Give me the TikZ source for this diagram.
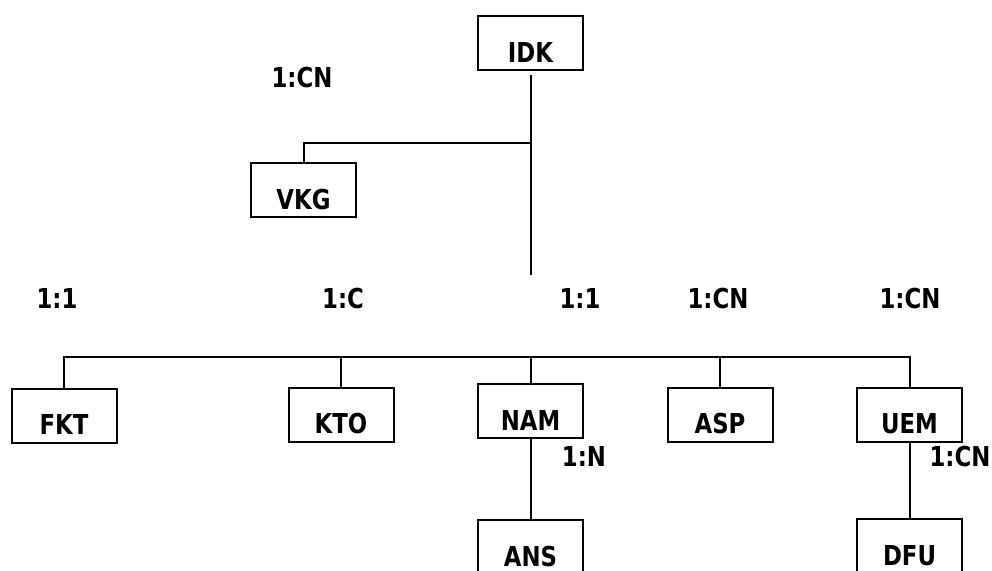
\documentclass[tikz,border=0pt]{standalone}
\usepackage{fontspec}
\setmainfont{DejaVu Sans}
\newfontfamily\heavy[FakeStretch=0.925]{DejaVu Sans Condensed Bold}
\begin{document}
\begin{tikzpicture}[x=1pt,y=-1pt,line width=2pt,
  ent/.style={draw,line width=2pt,inner sep=0pt,minimum width=105pt,minimum height=54pt,
    text height=46pt,text depth=8pt,font=\heavy\fontsize{27.4}{32}\selectfont},
  card/.style={inner sep=0pt,font=\heavy\fontsize{27.4}{32}\selectfont}]
\useasboundingbox (0,0) rectangle (992,570);
\clip (0,0) rectangle (992,570);
% entities
\node[ent] (idk) at (530.5,43) {IDK};
\node[ent] (vkg) at (303.5,190) {VKG};
\node[ent] (fkt) at (64,415.5) {FKT};
\node[ent] (kto) at (341,414.5) {KTO};
\node[ent] (nam) at (530.5,411) {NAM};
\node[ent] (asp) at (720,414.5) {ASP};
\node[ent] (uem) at (909.5,414.5) {UEM};
\node[ent] (ans) at (530.5,547) {ANS};
\node[ent] (dfu) at (909.5,546) {DFU};
% cardinalities
\node[card] (c1) at (302,77.5) {1:CN};
\node[card] (c2) at (57,299) {1:1};
\node[card] (c3) at (343,299) {1:C};
\node[card] (c4) at (580,299) {1:1};
\node[card] (c5) at (718,299) {1:CN};
\node[card] (c6) at (910,299) {1:CN};
\node[card] (c7) at (584,457) {1:N};
\node[card] (c8) at (960,457) {1:CN};
% connectors
\coordinate (idkend) at (530.5,275);
\coordinate (vj) at (530.5,143);
\coordinate (bus) at (0,357);
\draw ([yshift=-4pt]idk.south) -- (idkend);
\draw (vj) -| (vkg.north);
\draw (fkt.north) -- (fkt.north |- bus) -- (uem.north |- bus) -- (uem.north);
\draw (kto.north |- bus) -- (kto.north);
\draw (nam.north |- bus) -- (nam.north);
\draw (asp.north |- bus) -- (asp.north);
\draw (nam.south) -- (ans.north);
\draw (uem.south) -- (dfu.north);
\end{tikzpicture}
\end{document}
